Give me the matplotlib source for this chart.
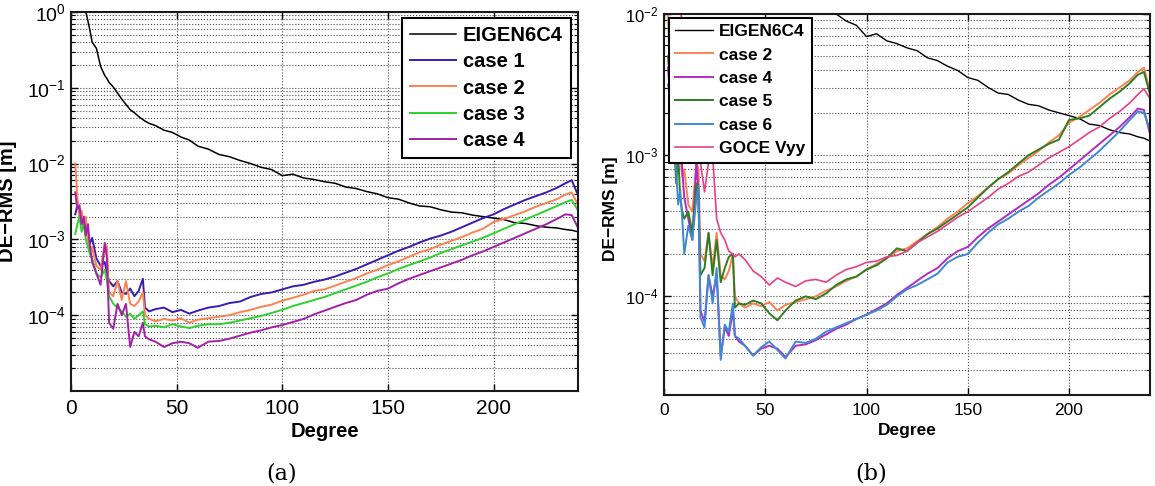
import numpy as np
import matplotlib
matplotlib.use('Agg')
import matplotlib.pyplot as plt
from matplotlib.ticker import LogLocator, NullFormatter

plt.rcParams['font.family'] = ['Liberation Sans', 'DejaVu Sans']
plt.rcParams['mathtext.fontset'] = 'custom'
plt.rcParams['mathtext.rm'] = 'Liberation Sans'
plt.rcParams['mathtext.it'] = 'Liberation Sans:italic'
plt.rcParams['mathtext.bf'] = 'Liberation Sans:bold'

# degree of the spherical harmonic expansion
degree = [2, 3, 4, 5, 6, 7, 8, 9, 10, 12, 14, 16, 17, 18, 20, 22, 24, 26, 28, 30,
          32, 34, 35, 37, 40, 44, 48, 52, 56, 60, 65, 70, 75, 80, 85, 90, 95, 100,
          105, 110, 115, 120, 125, 130, 135, 140, 145, 150, 155, 160, 165, 170,
          175, 180, 185, 190, 195, 200, 205, 210, 215, 220, 225, 230, 234, 237, 240]

# log10 of DE-RMS [m]
eigen_log = [0.60, 0.48, 0.35, 0.24, 0.12, 0.00, -0.12, -0.25, -0.40, -0.48, -0.72, -0.84, -0.88, -0.93, -0.99, -1.07, -1.15, -1.22, -1.29, -1.33,
             -1.38, -1.42, -1.44, -1.47, -1.50, -1.56, -1.59, -1.65, -1.69, -1.77, -1.81, -1.88, -1.91, -1.96, -2.00, -2.05, -2.08, -2.16,
             -2.14, -2.19, -2.21, -2.24, -2.26, -2.31, -2.33, -2.37, -2.40, -2.45, -2.47, -2.52, -2.56, -2.57, -2.61,
             -2.64, -2.65, -2.68, -2.70, -2.72, -2.74, -2.78, -2.79, -2.82, -2.84, -2.85, -2.87, -2.88, -2.90]
case1_log = [-2.67, -2.55, -2.62, -2.75, -2.70, -2.85, -2.95, -3.05, -2.98, -3.25, -3.35, -3.30, -3.45, -3.55, -3.62, -3.55, -3.70, -3.72, -3.65, -3.75,
             -3.68, -3.52, -3.90, -3.95, -3.92, -3.90, -3.96, -3.93, -3.98, -3.94, -3.90, -3.88, -3.84, -3.82, -3.76, -3.72, -3.70, -3.66,
             -3.62, -3.60, -3.56, -3.53, -3.49, -3.44, -3.39, -3.33, -3.27, -3.21, -3.15, -3.10, -3.04, -2.99,
             -2.95, -2.90, -2.84, -2.78, -2.72, -2.67, -2.60, -2.54, -2.48, -2.43, -2.38, -2.32, -2.26, -2.22, -2.42]
case2_log = [-2.00, -2.45, -2.75, -2.62, -2.85, -2.70, -3.00, -3.15, -3.10, -3.35, -3.40, -3.05, -3.10, -3.70, -3.75, -3.55, -3.80, -3.55, -3.85, -3.88,
             -3.82, -3.70, -4.00, -4.05, -4.08, -4.05, -4.07, -4.04, -4.10, -4.06, -4.04, -4.02, -4.00, -3.96, -3.93, -3.89, -3.86, -3.81,
             -3.77, -3.73, -3.68, -3.66, -3.61, -3.56, -3.51, -3.45, -3.40, -3.34, -3.29, -3.23, -3.17, -3.13,
             -3.07, -3.02, -2.97, -2.91, -2.86, -2.77, -2.73, -2.68, -2.63, -2.57, -2.52, -2.47, -2.41, -2.38, -2.55]
case3_log = [-2.93, -2.80, -2.70, -2.90, -2.80, -3.00, -3.10, -3.20, -3.25, -3.45, -3.50, -3.40, -3.55, -3.75, -3.85, -3.90, -3.95, -4.02, -3.98, -4.05,
             -4.00, -3.95, -4.12, -4.15, -4.14, -4.16, -4.12, -4.15, -4.17, -4.14, -4.12, -4.12, -4.10, -4.07, -4.04, -4.01, -3.97, -3.93,
             -3.88, -3.84, -3.80, -3.76, -3.71, -3.66, -3.61, -3.56, -3.50, -3.45, -3.39, -3.34, -3.29, -3.24,
             -3.18, -3.13, -3.08, -3.03, -2.98, -2.92, -2.86, -2.80, -2.74, -2.68, -2.62, -2.56, -2.51, -2.48, -2.62]
case4_log = [-2.38, -2.60, -2.55, -2.80, -2.72, -2.95, -2.80, -3.10, -3.30, -3.45, -3.60, -3.05, -3.25, -4.10, -4.18, -3.85, -4.00, -3.85, -4.42, -4.22,
             -4.28, -4.10, -4.28, -4.32, -4.35, -4.42, -4.37, -4.35, -4.37, -4.43, -4.35, -4.34, -4.31, -4.27, -4.23, -4.20, -4.16, -4.13,
             -4.09, -4.05, -3.99, -3.94, -3.89, -3.84, -3.80, -3.73, -3.68, -3.65, -3.58, -3.52, -3.47, -3.42,
             -3.37, -3.32, -3.27, -3.21, -3.16, -3.10, -3.04, -2.98, -2.92, -2.86, -2.80, -2.73, -2.67, -2.68, -2.85]
case5_log = [-2.30, -2.50, -2.70, -2.90, -3.20, -3.00, -3.30, -3.40, -3.45, -3.40, -3.55, -3.20, -3.30, -3.85, -3.80, -3.55, -3.85, -3.60, -3.90, -3.80,
             -3.72, -3.70, -4.08, -4.05, -4.06, -4.03, -4.05, -4.12, -4.17, -4.10, -4.03, -4.00, -4.02, -3.98, -3.92, -3.88, -3.86, -3.81,
             -3.78, -3.73, -3.66, -3.68, -3.62, -3.56, -3.52, -3.47, -3.42, -3.37, -3.30, -3.23, -3.17, -3.12,
             -3.06, -3.00, -2.96, -2.92, -2.89, -2.75, -2.74, -2.72, -2.66, -2.60, -2.55, -2.49, -2.43, -2.41, -2.57]
case6_log = [-2.50, -2.60, -2.80, -3.00, -3.10, -3.35, -3.25, -3.45, -3.70, -3.50, -3.60, -3.30, -3.22, -4.15, -4.22, -3.85, -4.05, -3.80, -4.45, -4.20,
             -4.25, -4.05, -4.28, -4.30, -4.35, -4.42, -4.36, -4.32, -4.38, -4.44, -4.32, -4.33, -4.30, -4.25, -4.22, -4.19, -4.16, -4.13,
             -4.10, -4.06, -4.00, -3.95, -3.92, -3.88, -3.84, -3.76, -3.72, -3.70, -3.62, -3.55, -3.49, -3.45,
             -3.40, -3.36, -3.30, -3.25, -3.20, -3.14, -3.09, -3.03, -2.97, -2.90, -2.83, -2.75, -2.69, -2.70, -2.82]
goce_log = [-1.50, -1.60, -1.70, -1.80, -1.85, -1.95, -1.98, -2.05, -2.20, -2.50, -2.70, -2.85, -3.00, -3.05, -3.26, -3.05, -3.00, -3.45, -3.55, -3.60,
            -3.68, -3.70, -3.72, -3.70, -3.74, -3.82, -3.86, -3.92, -3.87, -3.90, -3.93, -3.89, -3.88, -3.90, -3.85, -3.81, -3.79, -3.76,
            -3.75, -3.72, -3.71, -3.68, -3.62, -3.58, -3.54, -3.49, -3.44, -3.40, -3.35, -3.30, -3.24, -3.20,
            -3.15, -3.12, -3.07, -3.02, -2.98, -2.94, -2.89, -2.84, -2.80, -2.74, -2.69, -2.63, -2.57, -2.53, -2.60]

deg = np.array(degree)
eigen = 10.0 ** np.array(eigen_log)
case1 = 10.0 ** np.array(case1_log)
case2 = 10.0 ** np.array(case2_log)
case3 = 10.0 ** np.array(case3_log)
case4 = 10.0 ** np.array(case4_log)
case5 = 10.0 ** np.array(case5_log)
case6 = 10.0 ** np.array(case6_log)
goce = 10.0 ** np.array(goce_log)

black = 'black'
c1 = '#3a1cb4'
c2 = '#ff8050'
c3 = '#2ed12e'
c4 = '#a321a8'
c4b = '#b22bc6'
c5 = '#2f7d22'
c6 = '#3f88d2'
cg = '#ea3f86'

fig = plt.figure(figsize=(11.55, 4.86), dpi=100)
ax1 = fig.add_axes([0.0615, 0.1955, 0.439, 0.780])
ax2 = fig.add_axes([0.5749, 0.1872, 0.4208, 0.784])


def style(ax, ylo, yhi, yticks, xfs, yfs, lfs):
    ax.set_yscale('log')
    ax.set_xlim(0, 240)
    ax.set_ylim(ylo, yhi)
    ax.set_xticks([0, 50, 100, 150, 200])
    ax.set_yticks(yticks)
    ax.yaxis.set_minor_locator(LogLocator(base=10, subs=np.arange(2, 10), numticks=20))
    ax.yaxis.set_minor_formatter(NullFormatter())
    ax.grid(True, which='major', axis='both', linestyle=':', color='0.3', linewidth=0.8)
    ax.grid(True, which='minor', axis='y', linestyle=':', color='0.3', linewidth=0.8)
    ax.tick_params(which='both', direction='in', top=True, right=True)
    ax.tick_params(which='major', length=5, width=1)
    ax.tick_params(which='minor', length=3, width=0.8)
    ax.tick_params(axis='x', labelsize=xfs, pad=6)
    ax.tick_params(axis='y', labelsize=yfs, pad=4)
    for s in ax.spines.values():
        s.set_linewidth(1.5)
        s.set_color('0.1')
    ax.set_xlabel('Degree', fontsize=lfs, fontweight='bold')
    ax.set_ylabel('DE\u2212RMS [m]', fontsize=lfs, fontweight='bold')


# (a)
ax1.plot(deg, eigen, color=black, lw=1.1, label='EIGEN6C4')
ax1.plot(deg, case1, color=c1, lw=1.4, label='case 1')
ax1.plot(deg, case2, color=c2, lw=1.4, label='case 2')
ax1.plot(deg, case3, color=c3, lw=1.4, label='case 3')
ax1.plot(deg, case4, color=c4, lw=1.4, label='case 4')
style(ax1, 1e-5, 1, [1e-4, 1e-3, 1e-2, 1e-1, 1], 15, 14, 14.5)
ax1.xaxis.set_label_coords(0.5, -0.081)
ax1.yaxis.set_label_coords(-0.107, 0.5)
leg1 = ax1.legend(loc='upper right', bbox_to_anchor=(0.986, 0.984),
                  prop={'weight': 'bold', 'size': 14.5}, fancybox=False, framealpha=1,
                  edgecolor='black', handlelength=2.3, labelspacing=0.36,
                  borderpad=0.4, handletextpad=0.35, borderaxespad=0)
leg1.get_frame().set_linewidth(1.5)

# (b)
ax2.plot(deg, eigen, color=black, lw=1.0, label='EIGEN6C4')
ax2.plot(deg, case2, color=c2, lw=1.4, label='case 2')
ax2.plot(deg, case4, color=c4b, lw=1.4, label='case 4')
ax2.plot(deg, case5, color=c5, lw=1.4, label='case 5')
ax2.plot(deg, case6, color=c6, lw=1.4, label='case 6')
ax2.plot(deg, goce, color=cg, lw=1.2, label='GOCE Vyy')
style(ax2, 2e-5, 1e-2, [1e-4, 1e-3, 1e-2], 12.5, 12, 12.5)
ax2.xaxis.set_label_coords(0.5, -0.073)
ax2.yaxis.set_label_coords(-0.095, 0.49)
leg2 = ax2.legend(loc='upper left', bbox_to_anchor=(0.010, 0.990),
                  prop={'weight': 'bold', 'size': 12.5}, fancybox=False, framealpha=1,
                  edgecolor='black', handlelength=2.2, labelspacing=0.48,
                  borderpad=0.35, handletextpad=0.35, borderaxespad=0)
leg2.get_frame().set_linewidth(1.5)

fig.text(282 / 1155, 1 - 473 / 486, '(a)', ha='center', va='center',
         fontsize=16, family='DejaVu Serif')
fig.text(871 / 1155, 1 - 473 / 486, '(b)', ha='center', va='center',
         fontsize=16, family='DejaVu Serif')

fig.savefig('out.png', dpi=100)
